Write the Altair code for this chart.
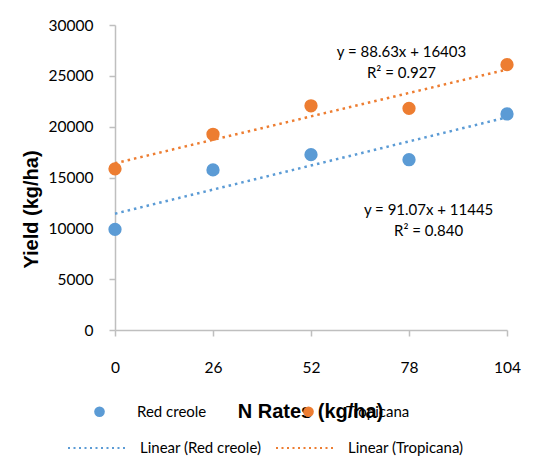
import altair as alt
import pandas as pd

# ---- data ----
n_rates = [0, 26, 52, 78, 104]
red_creole = [9900, 15750, 17250, 16750, 21250]
tropicana = [15850, 19250, 22050, 21800, 26100]
series_names = ["Red creole", "Tropicana"]
trend_names = ["Linear (Red creole)", "Linear (Tropicana)"]
colors = ["#5B9BD5", "#ED7D31"]
y_ticks = [0, 5000, 10000, 15000, 20000, 25000, 30000]

ann_text = ["y = 88.63x + 16403", "R² = 0.927", "y = 91.07x + 11445", "R² = 0.840"]
ann_x = [76, 76, 83.2, 83.2]
ann_y = [27340, 25280, 11800, 9740]

pts = pd.DataFrame({
    "x": n_rates * 2,
    "y": red_creole + tropicana,
    "series": [series_names[0]] * len(n_rates) + [series_names[1]] * len(n_rates),
})
ann = pd.DataFrame({"x": ann_x, "y": ann_y, "t": ann_text})

TICK_FONT = "Lato"
TITLE_FONT = "Liberation Sans"
AX = "#BFBFBF"

x_enc = alt.X(
    "x:Q",
    scale=alt.Scale(domain=[0, 104], nice=False, zero=False),
    axis=alt.Axis(
        values=n_rates, title="N Rates (kg/ha)", grid=False,
        domainColor=AX, domainWidth=1.5, tickColor=AX, tickWidth=1.5, tickSize=6,
        labelFont=TICK_FONT, labelFontSize=15.5, labelColor="#000",
        labelBaseline="middle", labelPadding=31, labelFlush=False,
        titleFont=TITLE_FONT, titleFontSize=20, titleFontWeight="bold", titleColor="#000",
        titleX=195, titleY=81, titleBaseline="middle", titleAlign="center",
    ),
)
y_enc = alt.Y(
    "y:Q",
    scale=alt.Scale(domain=[0, 30000], nice=False),
    axis=alt.Axis(
        values=y_ticks, format="d", title="Yield (kg/ha)", grid=False,
        domainColor=AX, domainWidth=1.5, tickColor=AX, tickWidth=1.5, tickSize=6,
        labelFont=TICK_FONT, labelFontSize=15.5, labelColor="#000", labelPadding=16,
        titleFont=TITLE_FONT, titleFontSize=20, titleFontWeight="bold", titleColor="#000",
        titleAngle=270, titleX=-84, titleY=184, titleAlign="center", titleBaseline="middle",
    ),
)

base = alt.Chart(pts)

trend = base.transform_regression(
    "x", "y", groupby=["series"]
).transform_calculate(
    trend='"Linear (" + datum.series + ")"'
).mark_line(strokeDash=[2.5, 4], strokeWidth=2.5).encode(
    x=x_enc,
    y=y_enc,
    stroke=alt.Stroke(
        "trend:N",
        scale=alt.Scale(domain=trend_names, range=colors),
        legend=alt.Legend(
            title=None, orient="none", legendX=-48, legendY=392,
            direction="horizontal", columns=2, columnPadding=10,
            symbolType="stroke", symbolSize=3600, symbolStrokeWidth=1.8,
            symbolDash=[2, 3.5], labelOffset=11, padding=0,
            labelFont=TICK_FONT, labelFontSize=15, labelColor="#000",
        ),
    ),
)

points = base.mark_circle(size=177, opacity=1).encode(
    x=x_enc,
    y=y_enc,
    fill=alt.Fill(
        "series:N",
        scale=alt.Scale(domain=series_names, range=colors),
        legend=alt.Legend(
            title=None, orient="none", legendX=-23, legendY=379,
            direction="horizontal", columns=2, columnPadding=94,
            symbolType="circle", symbolSize=113, symbolStrokeWidth=0,
            labelOffset=30, padding=0,
            labelFont=TICK_FONT, labelFontSize=15, labelColor="#000",
        ),
    ),
)

labels = alt.Chart(ann).mark_text(
    font=TICK_FONT, fontSize=15, color="#000", align="center", baseline="middle"
).encode(x="x:Q", y="y:Q", text="t:N")

chart = alt.layer(trend, points, labels).properties(
    width=392, height=305,
    autosize=alt.AutoSizeParams(type="none"),
    padding={"left": 107, "top": 17, "right": 17, "bottom": 126},
    background="white",
).configure_view(stroke=None)

chart.save("out.html", embed_options={"renderer": "svg", "actions": False})
